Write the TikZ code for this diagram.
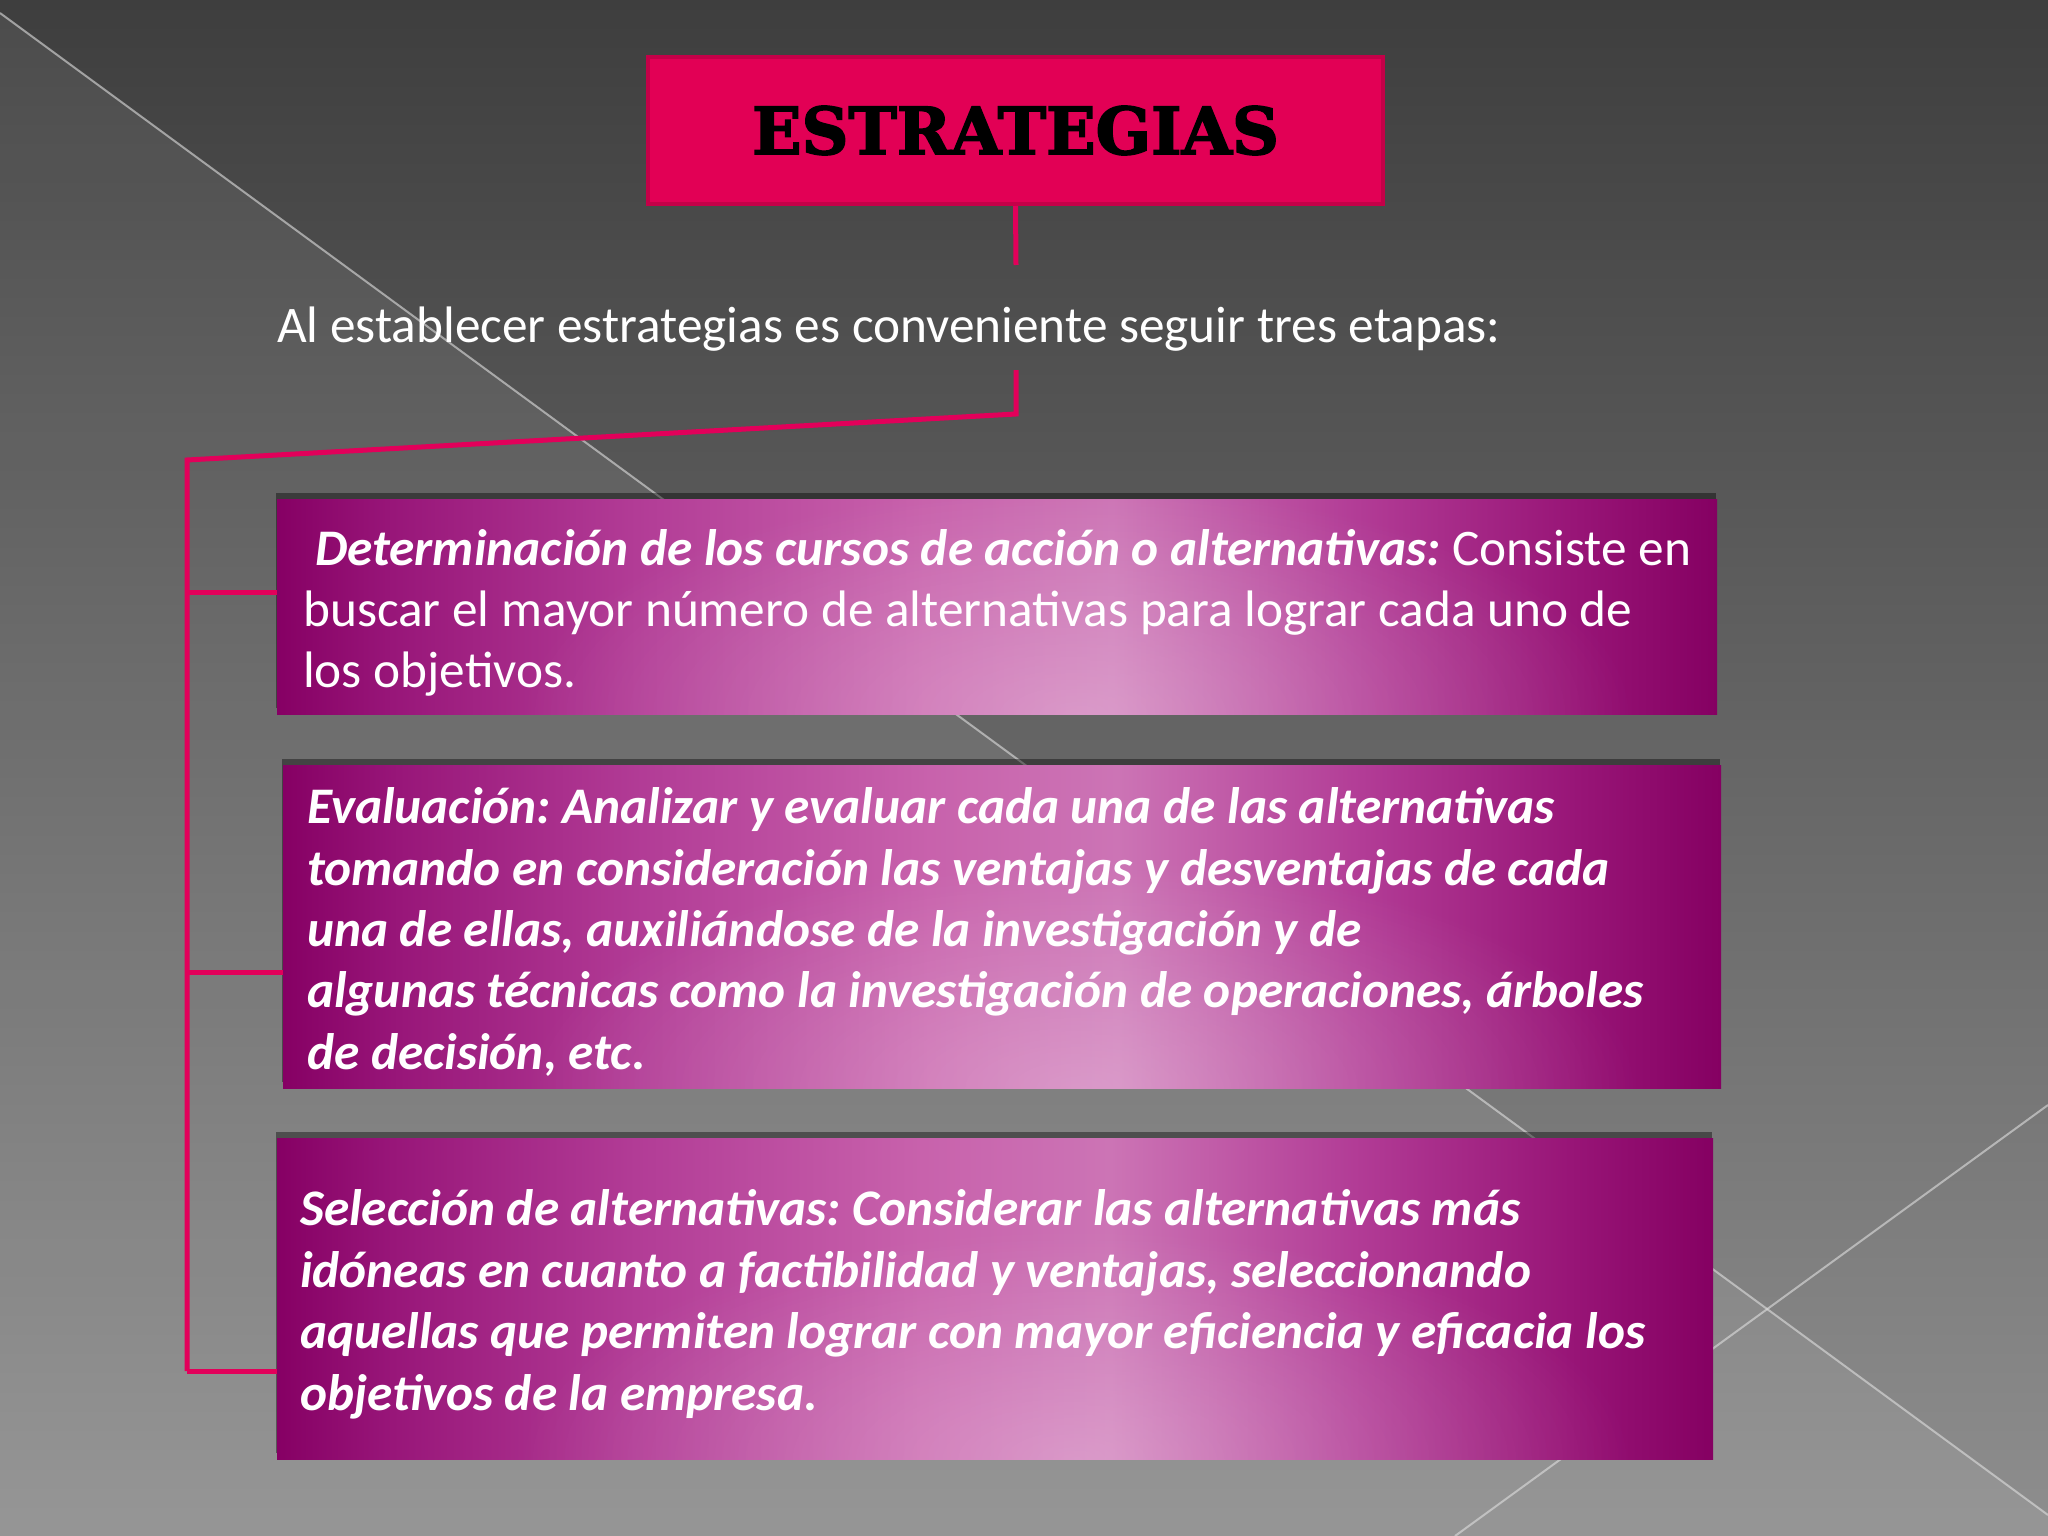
\documentclass[tikz,border=0pt]{standalone}
\usepackage{fontspec}
\setmainfont{Carlito}
\newfontfamily\titlefont{DejaVu Serif}[BoldFeatures={FakeBold=2.5}]
\usetikzlibrary{shadows,fadings,calc}
\frenchspacing
\definecolor{bgtop}{HTML}{3E3E3E}
\definecolor{bgbot}{HTML}{8E8E8E}
\definecolor{connc}{HTML}{E2005A}
\definecolor{titlefill}{HTML}{E20055}
\definecolor{titleedge}{HTML}{C40048}
\definecolor{mA}{HTML}{860064}
\definecolor{mB}{HTML}{981679}
\definecolor{mC}{HTML}{B23C96}
\definecolor{mD}{HTML}{C862AC}
\definecolor{mE}{HTML}{CC74B5}
\definecolor{mF}{HTML}{981577}
\definecolor{mG}{HTML}{850062}
\pgfdeclarehorizontalshading{boxshade}{100bp}{color(0bp)=(mA); color(25bp)=(mA); color(29bp)=(mB); color(37.5bp)=(mC); color(47.5bp)=(mD); color(54bp)=(mE); color(62.5bp)=(mC); color(70bp)=(mF); color(75bp)=(mG); color(100bp)=(mG)}
\tikzfading[name=glowfade, inner color=transparent!72, outer color=transparent!100]
\tikzset{
  conn/.style={draw=connc, line width=5pt},
  bgline/.style={draw=white!75!gray, line width=2pt, opacity=.6},
  stagebox/.style={rectangle, anchor=north west, inner sep=0pt, shading=boxshade,
    drop shadow={shadow xshift=-1pt, shadow yshift=6pt, opacity=.4, fill=black}},
  titlebox/.style={rectangle, fill=titlefill, draw=titleedge, line width=4pt, inner sep=0pt},
  boxtext/.style={anchor=base west, inner sep=0pt, text=white, font=\fontsize{51.3}{62}\selectfont\frenchspacing},
  boxtextbi/.style={boxtext, font=\fontsize{51.3}{62}\selectfont\frenchspacing\bfseries\itshape},
}
\newcommand{\glow}[1]{%
  \begin{scope}
    \clip (#1.north west) rectangle (#1.south east);
    \fill[white, path fading=glowfade] ($(#1.south)+(80,0)$) ellipse [x radius=560, y radius=230];
  \end{scope}}
\begin{document}
\begin{tikzpicture}[x=1pt, y=-1pt]
\useasboundingbox (0,0) rectangle (2048,1536);
% background
\fill[top color=bgtop, bottom color=bgbot] (0,0) rectangle (2048,1536);
\fill[white, opacity=.07] (0,13) -- (2048,1515) -- (2048,1536) -- (0,1536) -- cycle;
\draw[bgline] (0,13) -- (2048,1515);
\draw[bgline] (2048,1105) -- (1455,1536);

% title
\node[titlebox, minimum width=735pt, minimum height=147pt] (title) at (1015.5,130.5)
  {\titlefont\bfseries\fontsize{65}{72}\selectfont ESTRATEGIAS};
\coordinate (c1) at (1016,265);
\draw[conn] (title.south) -- (c1);

% subtitle
\node[boxtext] (sub) at (277,342)
  {Al establecer estrategias es conveniente seguir tres etapas:};

% boxes
\node[stagebox, minimum width=1440pt, minimum height=215pt] (b1) at (277,499) {};
\glow{b1}
\node[stagebox, minimum width=1438pt, minimum height=323pt] (b2) at (283,765) {};
\glow{b2}
\node[stagebox, minimum width=1436pt, minimum height=321pt] (b3) at (277,1138) {};
\glow{b3}

% connectors
\coordinate (t0) at (1016,370);
\coordinate (t1) at (1016,414);
\coordinate (t2) at (187,460);
\coordinate (t3) at (187,1371);
\draw[conn, line join=miter] (t0) -- (t1) -- (t2) -- (t3);
\coordinate (k1) at (277,592);
\coordinate (k2) at (283,972);
\coordinate (k3) at (277,1371);
\draw[conn] (t2 |- k1) -- (k1);
\draw[conn] (t2 |- k2) -- (k2);
\draw[conn] (t3) -- (k3);

% box 1 text
\node[boxtext] (b1l1) at (315,565) {\textbf{\textit{Determinación de los cursos de acción o alternativas:}} Consiste en};
\node[boxtext] (b1l2) at (303,626) {buscar el mayor número de alternativas para lograr cada uno de};
\node[boxtext] (b1l3) at (303,687) {los objetivos.};

% box 2 text
\node[boxtextbi] (b2l1) at (307,823) {Evaluación: Analizar y evaluar cada una de las alternativas};
\node[boxtextbi] (b2l2) at (307,885) {tomando en consideración las ventajas y desventajas de cada};
\node[boxtextbi] (b2l3) at (307,946) {una de ellas, auxiliándose de la investigación y de};
\node[boxtextbi] (b2l4) at (307,1007) {algunas técnicas como la investigación de operaciones, árboles};
\node[boxtextbi] (b2l5) at (307,1069) {de decisión, etc.};

% box 3 text
\node[boxtextbi] (b3l1) at (300,1225) {Selección de alternativas: Considerar las alternativas más};
\node[boxtextbi] (b3l2) at (300,1287) {idóneas en cuanto a factibilidad y ventajas, seleccionando};
\node[boxtextbi] (b3l3) at (300,1348) {aquellas que permiten lograr con mayor eficiencia y eficacia los};
\node[boxtextbi] (b3l4) at (300,1410) {objetivos de la empresa.};
\end{tikzpicture}
\end{document}
